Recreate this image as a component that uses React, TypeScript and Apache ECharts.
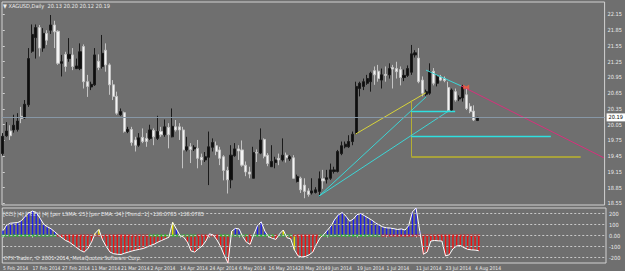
import React, { useEffect, useRef } from "react";
import * as echarts from "echarts";

// ---------- price data (daily bars, index 0 = 5 Feb 2014) ----------
const OPEN = [
  19.50, 19.84, 19.93, 19.95, 19.96, 20.21, 20.18, 20.43, 21.45, 21.71,
  21.90, 21.51, 21.79, 21.85, 21.95, 21.83, 21.22, 21.39, 21.31, 21.38,
  21.12, 21.12, 21.54, 20.87, 20.77, 20.81, 21.26, 21.16, 21.47, 21.19,
  20.81, 20.59, 20.24, 20.28, 19.92, 19.96, 19.76, 19.66, 19.81, 19.79,
  19.79, 19.94, 19.79, 19.92, 19.86, 20.00, 19.82, 20.01, 20.01, 19.95,
  19.57, 19.63, 19.59, 19.60, 19.43, 19.38, 19.43, 19.62, 19.65, 19.57,
  19.44, 19.18, 19.00, 19.46, 19.59, 19.57, 19.28, 19.15, 19.03, 19.52,
  19.51, 19.77, 19.47, 19.25, 19.33, 19.41, 19.38, 19.47, 19.40, 19.42,
  18.97, 19.03, 18.90, 18.79, 18.75, 18.76, 18.78, 19.02, 19.01, 19.03,
  19.16, 19.16, 19.50, 19.63, 19.63, 19.73, 19.89, 20.74, 20.78, 20.84,
  20.87, 21.08, 21.07, 20.90, 21.01, 21.00, 21.14, 21.12, 21.10, 20.95,
  20.99, 21.05, 21.38, 21.32, 20.90, 20.63, 20.65, 21.07, 20.84, 20.96,
  20.93, 20.76, 20.33, 20.68, 20.54, 20.56, 20.62, 20.40, 20.31, 20.13,
];
const HIGH = [
  19.89, 20.10, 20.04, 20.24, 20.27, 20.39, 20.52, 21.51, 21.96, 21.96,
  21.95, 21.89, 21.85, 22.14, 22.03, 21.85, 21.38, 21.44, 21.70, 21.51,
  21.31, 21.60, 21.58, 21.00, 20.87, 21.51, 21.39, 21.76, 21.60, 21.22,
  20.90, 20.68, 20.36, 20.30, 20.01, 20.01, 19.82, 19.89, 19.98, 19.89,
  20.05, 19.98, 20.22, 20.01, 20.15, 20.08, 20.36, 20.14, 20.08, 20.01,
  19.82, 19.70, 19.66, 19.76, 19.50, 19.53, 19.92, 19.79, 19.73, 19.63,
  19.47, 19.25, 19.66, 19.70, 19.66, 19.75, 19.35, 19.25, 19.63, 19.58,
  19.98, 19.79, 19.51, 19.66, 19.44, 19.50, 19.79, 19.52, 19.47, 19.47,
  19.10, 19.06, 19.03, 18.84, 19.03, 18.86, 19.16, 19.19, 19.19, 19.31,
  19.25, 19.57, 19.73, 19.73, 19.85, 19.92, 20.87, 20.87, 20.93, 21.00,
  21.06, 21.16, 21.19, 21.12, 21.16, 21.22, 21.19, 21.25, 21.16, 21.10,
  21.18, 21.57, 21.47, 21.51, 20.97, 20.72, 21.22, 21.13, 21.00, 21.00,
  20.97, 20.87, 20.74, 20.74, 20.61, 20.81, 20.74, 20.46, 20.42, 20.20,
];
const LOW = [
  19.46, 19.82, 19.76, 19.90, 19.92, 20.08, 20.16, 20.39, 21.42, 21.31,
  21.35, 21.44, 21.57, 21.78, 21.51, 21.19, 20.97, 21.06, 21.25, 21.09,
  21.11, 21.09, 20.74, 20.58, 20.71, 20.79, 21.09, 21.12, 21.06, 20.62,
  20.52, 20.24, 20.22, 19.90, 19.89, 19.65, 19.54, 19.63, 19.70, 19.63,
  19.76, 19.66, 19.76, 19.82, 19.82, 19.60, 19.81, 19.92, 19.76, 19.22,
  19.54, 19.32, 19.55, 19.22, 19.28, 19.34, 18.90, 19.54, 19.47, 19.28,
  18.99, 18.74, 18.84, 19.44, 19.38, 19.25, 19.07, 19.03, 19.03, 19.34,
  19.49, 19.41, 19.26, 19.25, 19.22, 19.28, 19.35, 19.33, 19.36, 19.02,
  18.95, 18.75, 18.65, 18.68, 18.72, 18.74, 18.68, 18.83, 18.93, 19.00,
  19.12, 19.14, 19.47, 19.60, 19.61, 19.66, 19.86, 20.59, 20.71, 20.81,
  20.68, 20.81, 20.87, 20.74, 20.87, 20.93, 20.74, 20.93, 20.80, 20.88,
  20.96, 21.00, 21.33, 20.84, 20.59, 20.60, 20.62, 20.80, 20.78, 20.88,
  20.86, 20.29, 20.30, 20.49, 20.50, 20.49, 20.33, 20.27, 20.12, 20.12,
];
const CLOSE = [
  19.83, 19.93, 19.84, 20.04, 20.12, 20.17, 20.44, 21.31, 21.77, 21.90,
  21.51, 21.79, 21.66, 21.95, 21.82, 21.22, 21.25, 21.16, 21.39, 21.16,
  21.17, 21.44, 20.87, 20.78, 20.82, 21.38, 21.14, 21.41, 21.19, 20.81,
  20.59, 20.27, 20.30, 19.92, 19.96, 19.71, 19.66, 19.80, 19.73, 19.73,
  19.95, 19.82, 19.92, 19.86, 20.01, 19.86, 20.02, 19.95, 19.95, 19.57,
  19.63, 19.58, 19.62, 19.41, 19.38, 19.44, 19.63, 19.71, 19.54, 19.41,
  19.18, 19.00, 19.47, 19.59, 19.55, 19.28, 19.15, 19.11, 19.52, 19.51,
  19.76, 19.45, 19.31, 19.35, 19.38, 19.38, 19.47, 19.42, 19.44, 19.03,
  19.06, 18.81, 18.78, 18.72, 18.79, 18.81, 19.02, 18.98, 19.04, 19.19,
  19.19, 19.54, 19.65, 19.68, 19.73, 19.87, 20.78, 20.84, 20.87, 20.93,
  21.03, 21.00, 20.93, 21.00, 20.99, 21.12, 21.11, 21.06, 20.95, 20.99,
  21.12, 21.40, 21.42, 20.87, 20.65, 20.68, 21.06, 20.84, 20.96, 20.90,
  20.89, 20.32, 20.71, 20.52, 20.57, 20.78, 20.36, 20.30, 20.14, 20.19,
];

const DATE_LABELS = [
  "5 Feb 2014", "17 Feb 2014", "27 Feb 2014", "11 Mar 2014", "21 Mar 2014",
  "2 Apr 2014", "14 Apr 2014", "24 Apr 2014", "6 May 2014", "16 May 2014",
  "28 May 2014", "9 Jun 2014", "19 Jun 2014", "1 Jul 2014", "11 Jul 2014",
  "23 Jul 2014", "4 Aug 2014",
];
const DATE_LABEL_BARS = [0, 8, 16, 24, 32, 40, 48, 56, 64, 72, 80, 88, 96, 104, 112, 120, 128];
const PRICE_TICKS = [22.15, 21.85, 21.55, 21.25, 20.95, 20.65, 20.35, 20.05, 19.75, 19.45, 19.15, 18.85, 18.55];
const BID = 20.19;

// ---------- CCI sub-window ----------
const CCI = [
  45, 95, 112, 115, 118, 135, 175, 205, 222, 210,
  160, 105, 80, 62, 35, 5, -20, -45, -60, -85,
  -110, -135, -150, -120, -60, 20, 55, -40, -100, -150,
  -165, -170, -172, -160, -150, -140, -132, -125, -118, -105,
  -90, -78, -60, -45, -30, -15, 120, 60, 0, -15,
  -60, -140, -150, -120, -95, -50, 15, 5, -40, -100,
  -180, -249.4886, 40, 65, 60, -10, -60, -80, 10, 90,
  125, 40, -10, -25, -35, 15, 50, -20, -30, -130,
  -185, -195, -190, -175, -150, -80, -20, 10, 50, 90,
  150, 190, 210, 175, 130, 150, 190, 200, 180, 160,
  140, 115, 95, 78, 70, 68, 62, 55, 60, 50,
  90, 215, 250.2094, 40, -170, -150, -50, -45, -48, -50,
  -185, -175, -120, -95, -90, -110, -125, -130, -132, -138.0785,
];
const CCI_YELLOW_BARS = [25, 26, 46, 62, 76, 79];
const TREND = [
  1, 1, 1, 1, 1, 1, 1, 1, 1, 1, 1, 1, 1, 1, 1,
  -1, -1, -1, -1, -1, -1, -1, -1, -1, -1, -1, -1, -1, -1, -1, -1, -1, -1, -1, -1, -1, -1, -1, -1, -1,
  1, 1, 1, 1, 1, 1, 1, 1, 1, 1, 1, 1, 1,
  -1, -1, -1, -1, -1, -1,
  1, 1, 1, 1, 1, 1, 1, 1,
  -1,
  1, 1, 1, 1, 1, 1,
  -1,
  1, 1, 1, 1,
  -1, -1, -1, -1, -1, -1, -1,
  1, 1, 1, 1, 1, 1, 1, 1, 1, 1, 1, 1, 1, 1, 1, 1, 1,
  -1, -1, -1, -1, -1, -1, -1, -1, -1, -1, -1, -1, -1, -1, -1, -1, -1, -1, -1, -1, -1, -1, -1, -1, -1, -1, -1,
];
const CCI_MAX = 250.2094;
const CCI_MIN = -249.4886;
const CCI_LEVELS = [200, 100, 0, -100, -200];
const CCI_LABELS = [250.2094, 200, 100, 0, -100, -200, -249.4886];

// ---------- chart objects drawn on the price chart: [bar index, price] ----------
const YELLOW_RAY = [[95.8, 19.87], [115.0, 20.66]];
const YELLOW_VERT = [[111.0, 20.51], [111.0, 19.436]];
const YELLOW_HORIZ = [[111.0, 19.436], [157.0, 19.436]];
const CYAN_FAN_1 = [[85.9, 18.69], [115.0, 20.58]];
const CYAN_FAN_2 = [[85.9, 18.69], [121.3, 20.32]];
const CYAN_HORIZ_1 = [[111.0, 20.30], [122.9, 20.30]];
const CYAN_HORIZ_2 = [[111.0, 19.836], [148.9, 19.836]];
const CYAN_DOWN = [[115.0, 21.09], [124.5, 20.79]];
const MAGENTA_DOWN = [[124.5, 20.79], [163.3, 19.42]];
const RED_MARK = [[125.9, 20.77]];

const BG = "#6f6f6f";
const FG = "#ececec";
const BORDER = "#d2d2d2";

function hasFont(name: string): boolean {
  try {
    const c = document.createElement("canvas").getContext("2d");
    if (!c) return false;
    const s = "abcdefghijklmnopqrstuvwxyz 0123456789 ABCDEFGHIJ";
    c.font = "20px monospace";
    const w1 = c.measureText(s).width;
    c.font = `20px "${name}", monospace`;
    const w2 = c.measureText(s).width;
    c.font = "20px serif";
    const w3 = c.measureText(s).width;
    c.font = `20px "${name}", serif`;
    const w4 = c.measureText(s).width;
    return w1 !== w2 || w3 !== w4;
  } catch (e) {
    return false;
  }
}

export default function App() {
  const ref = useRef<HTMLDivElement>(null);
  useEffect(() => {
    const el = ref.current!;
    const chart = echarts.init(el, null, { renderer: "svg" });
    const narrow = ["Liberation Sans Narrow", "DejaVu Sans Condensed", "Roboto Condensed", "Open Sans Condensed"].find(hasFont);
    const FONT = narrow ? `"${narrow}", "Liberation Sans", sans-serif` : "Liberation Sans";
    const FS = narrow ? 5.6 : 4.7;
    const FS_DATE = narrow ? 5.0 : 4.3;
    const xMin = -0.2;
    const xMax = 163.5;

    const candles = OPEN.map((o, i) => [i, o, CLOSE[i], LOW[i], HIGH[i]]);
    const hist = CCI.map((v, i) => ({
      value: [i, v],
      itemStyle: { color: CCI_YELLOW_BARS.includes(i) ? "#e8e000" : v >= 0 ? "#1c1cf0" : "#f01010" },
    }));
    const trendDots = TREND.map((t, i) => ({
      value: [i, 0],
      itemStyle: { color: t > 0 ? "#10e010" : "#f01010" },
    }));

    const drawings = [
      { pts: YELLOW_RAY, color: "#d8d43a", width: 1 },
      { pts: YELLOW_VERT, color: "#b4ae34", width: 1 },
      { pts: YELLOW_HORIZ, color: "#a8a23c", width: 2 },
      { pts: CYAN_FAN_1, color: "#3cd6d6", width: 1 },
      { pts: CYAN_FAN_2, color: "#3cd6d6", width: 1 },
      { pts: CYAN_HORIZ_1, color: "#2ee0e0", width: 1.3 },
      { pts: CYAN_HORIZ_2, color: "#2ee0e0", width: 1.3 },
      { pts: CYAN_DOWN, color: "#3cd6d6", width: 1 },
      { pts: MAGENTA_DOWN, color: "#d8307c", width: 1 },
    ];

    const axisText = { color: FG, fontSize: FS, fontFamily: FONT };

    const option: any = {
      animation: false,
      backgroundColor: BG,
      textStyle: { fontFamily: FONT },
      grid: [
        { left: 2, right: 19, top: 2, height: 203, show: true, borderColor: BORDER, borderWidth: 1, backgroundColor: "transparent" },
        { left: 2, right: 19, top: 208, height: 55, show: true, borderColor: BORDER, borderWidth: 1, backgroundColor: "transparent" },
      ],
      xAxis: [
        {
          type: "value", gridIndex: 0, min: xMin, max: xMax,
          axisLine: { show: false }, axisTick: { show: false }, axisLabel: { show: false }, splitLine: { show: false },
        },
        {
          type: "value", gridIndex: 1, min: xMin, max: xMax,
          axisLine: { show: false },
          axisTick: { show: true, customValues: DATE_LABEL_BARS, length: 2, lineStyle: { color: BORDER } },
          axisLabel: {
            color: FG, fontFamily: FONT, fontSize: FS_DATE, customValues: DATE_LABEL_BARS, align: "left", margin: 2,
            hideOverlap: false, showMinLabel: true, showMaxLabel: true,
            formatter: (v: number) => DATE_LABELS[DATE_LABEL_BARS.indexOf(Math.round(v))] ?? "",
          },
          splitLine: { show: false },
        },
      ],
      yAxis: [
        {
          type: "value", gridIndex: 0, position: "right", min: 18.521, max: 22.388,
          axisLine: { show: false },
          axisTick: { show: true, customValues: PRICE_TICKS, length: 2, lineStyle: { color: BORDER } },
          axisLabel: { ...axisText, customValues: PRICE_TICKS, margin: 3, formatter: (v: number) => v.toFixed(2) },
          splitLine: { show: false },
        },
        {
          type: "value", gridIndex: 1, position: "right", min: CCI_MIN, max: CCI_MAX,
          axisLine: { show: false },
          axisTick: { show: true, customValues: CCI_LABELS, length: 2, lineStyle: { color: BORDER } },
          axisLabel: {
            ...axisText, customValues: CCI_LABELS, margin: 3,
            formatter: (v: number) => (v === 0 ? "0.00" : Math.abs(v) > 240 ? v.toFixed(4) : String(v)),
          },
          splitLine: { show: false },
        },
      ],
      series: [
        {
          type: "candlestick", xAxisIndex: 0, yAxisIndex: 0, data: candles,
          encode: { x: 0, y: [1, 2, 3, 4] },
          barWidth: 2.6,
          itemStyle: { color: "#0e0e0e", color0: "#f4f4f4", borderColor: "#1a1a1a", borderColor0: "#c4c4c4", borderWidth: 1 },
          markLine: {
            silent: true, symbol: ["none", "none"],
            lineStyle: { color: "#8797a6", width: 1, type: "solid" },
            label: {
              show: true, position: "end", distance: 2, formatter: () => BID.toFixed(2),
              backgroundColor: "#ffffff", color: "#000000", fontSize: FS, fontFamily: FONT, padding: [1, 2],
            },
            data: [{ yAxis: BID }],
          },
          z: 2,
        },
        {
          type: "lines", coordinateSystem: "cartesian2d", xAxisIndex: 0, yAxisIndex: 0, silent: true,
          lineStyle: { opacity: 1 },
          data: drawings.map((d) => ({ coords: d.pts, lineStyle: { color: d.color, width: d.width, opacity: 1 } })),
          z: 3,
        },
        {
          type: "scatter", xAxisIndex: 0, yAxisIndex: 0, silent: true,
          symbol: "path://M0,10 L0,0 L5,4 L10,0 L10,10 L5,7 Z", symbolSize: [6, 5],
          itemStyle: { color: "#ff5a3c" }, data: RED_MARK, z: 4,
        },
        {
          type: "bar", xAxisIndex: 1, yAxisIndex: 1, data: hist, barWidth: 1.4, silent: true,
          markLine: {
            silent: true, symbol: ["none", "none"], label: { show: false },
            lineStyle: { color: "#c8c8c8", width: 1, type: [2, 2] },
            data: CCI_LEVELS.map((l) => ({ yAxis: l })),
          },
          z: 2,
        },
        {
          type: "scatter", xAxisIndex: 1, yAxisIndex: 1, data: trendDots, silent: true,
          symbol: "rect", symbolSize: [2.6, 2], z: 3,
        },
        {
          type: "line", xAxisIndex: 1, yAxisIndex: 1, data: CCI.map((v, i) => [i, v]), silent: true,
          showSymbol: false, lineStyle: { color: "#ffffff", width: 1 }, z: 4,
        },
      ],
      graphic: [
        { type: "text", left: 3, top: 3, style: { text: "▼ XAGUSD,Daily  20.13 20.20 20.12 20.19", fill: FG, fontSize: FS, fontFamily: FONT } },
        { type: "text", left: 3, top: 211, style: { text: "[CCI] |4| [TCCI] |4| [per LSMA: 25] [per EMA: 34] [Trend: 1] -138.0785 -138.0785", fill: FG, fontSize: FS, fontFamily: FONT } },
        { type: "text", left: 3, top: 255, style: { text: "\u00A9FX Trader, \u00A9 2001-2014, MetaQuotes Software Corp.", fill: FG, fontSize: FS, fontFamily: FONT } },
      ],
    };
    chart.setOption(option);
    return () => chart.dispose();
  }, []);
  return <div ref={ref} style={{ position: "fixed", left: 0, top: 0, width: 625, height: 271, background: BG }} />;
}
